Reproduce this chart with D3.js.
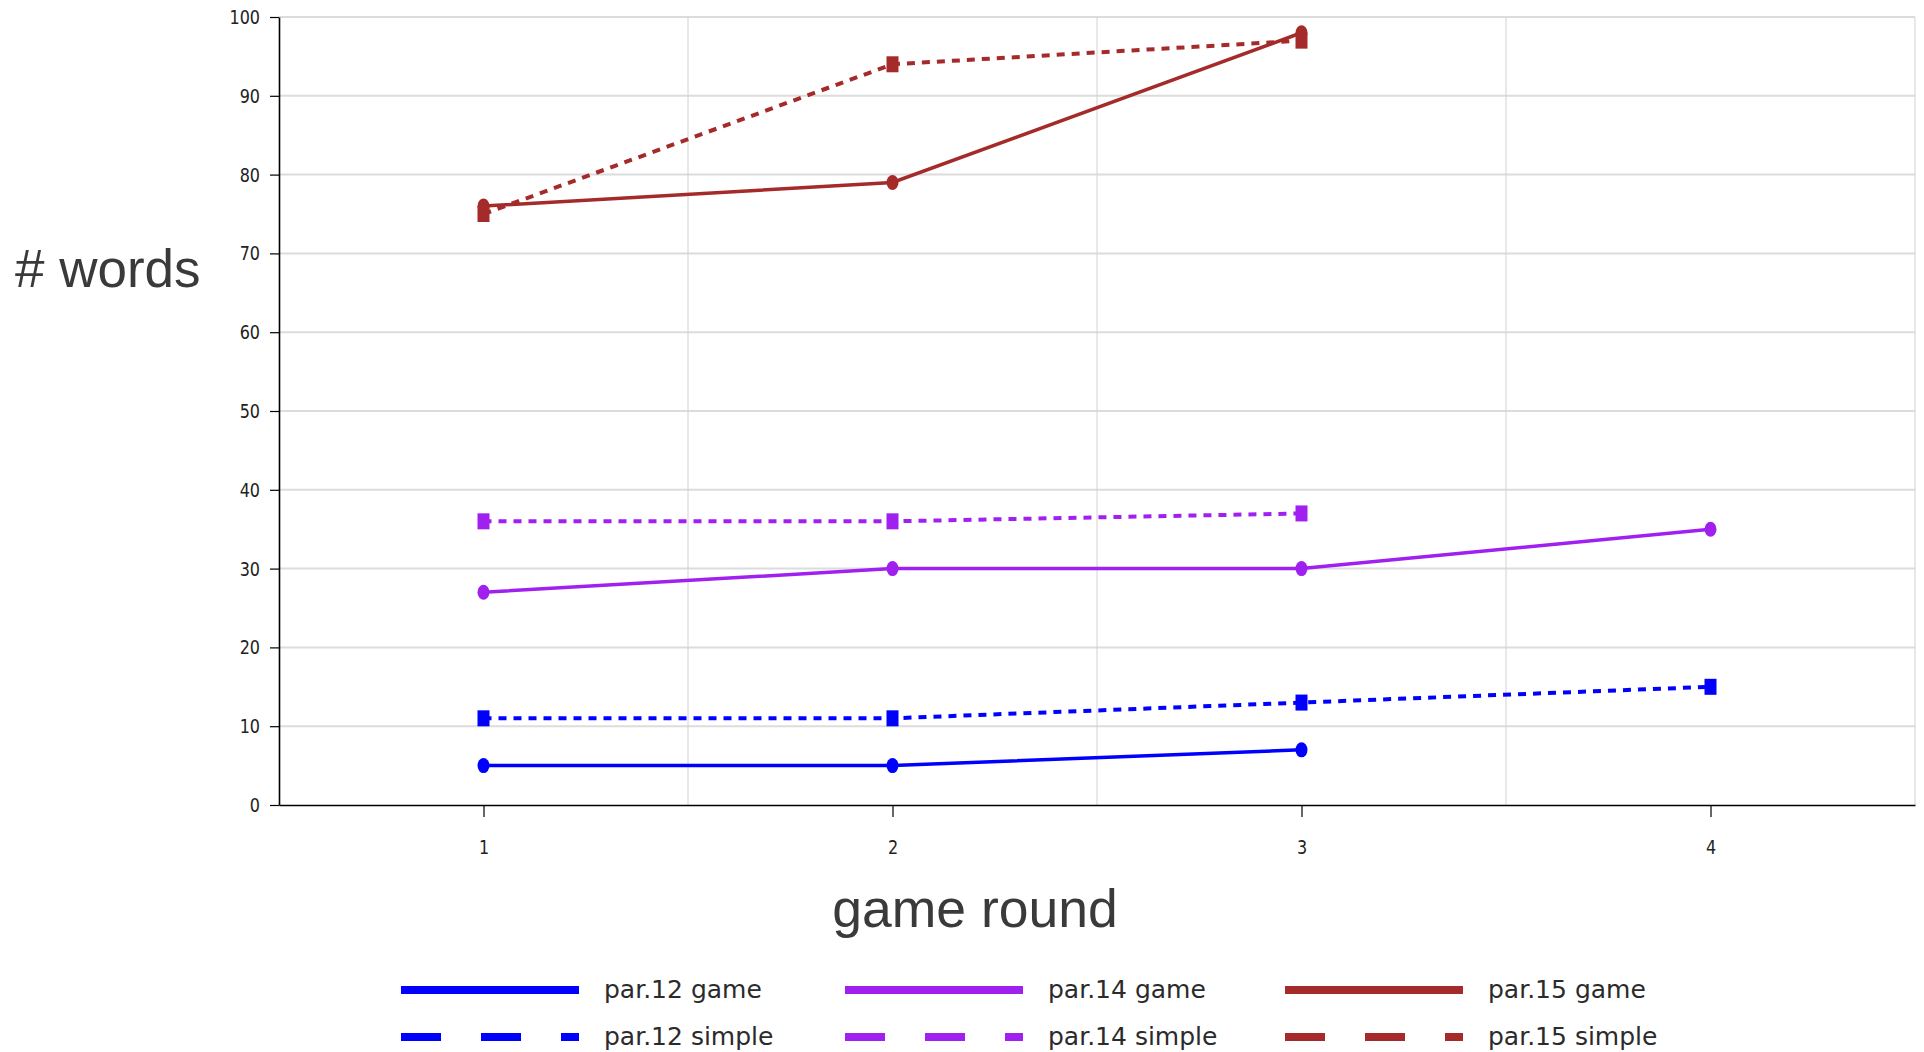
<!DOCTYPE html>
<html>
<head>
<meta charset="utf-8">
<script src="https://cdn.jsdelivr.net/npm/d3@7"></script>
<style>
  html, body { margin: 0; padding: 0; background: #fff; }
  svg { display: block; }
</style>
</head>
<body>
<svg id="chart" width="1924" height="1052"></svg>
<script>
// ---------------- data ----------------
const rounds = [1, 2, 3, 4];
const yTickValues = [0, 10, 20, 30, 40, 50, 60, 70, 80, 90, 100];
const xTickValues = [1, 2, 3, 4];
const xGridValues = [1.5, 2.5, 3.5, 4.5];

const par12Game   = [5, 5, 7, null];
const par12Simple = [11, 11, 13, 15];
const par14Game   = [27, 30, 30, 35];
const par14Simple = [36, 36, 37, null];
const par15Game   = [76, 79, 98, null];
const par15Simple = [75, 94, 97, null];

const participants = ["par.12", "par.14", "par.15"];
const participantColors = ["#0000ff", "#a020f0", "#a52a2a"];
const kinds = ["game", "simple"];

const xTitle = "game round";
const yTitle = "# words";

// series table built from the arrays above
const series = [
  { name: "par.12 game",   p: 0, kind: "game",   values: par12Game },
  { name: "par.12 simple", p: 0, kind: "simple", values: par12Simple },
  { name: "par.14 game",   p: 1, kind: "game",   values: par14Game },
  { name: "par.14 simple", p: 1, kind: "simple", values: par14Simple },
  { name: "par.15 game",   p: 2, kind: "game",   values: par15Game },
  { name: "par.15 simple", p: 2, kind: "simple", values: par15Simple }
];

// ---------------- layout ----------------
const svg = d3.select("#chart");
const plotLeft = 279, plotRight = 1915, plotTop = 17, plotBottom = 805;

const x = d3.scaleLinear().domain([0.5, 4.5]).range([plotLeft, plotRight]);
const y = d3.scaleLinear().domain([0, 100]).range([plotBottom, plotTop]);

// grid
const grid = svg.append("g");
grid.selectAll("line.h").data(yTickValues.filter(v => v > 0)).join("line")
  .attr("x1", plotLeft).attr("x2", plotRight)
  .attr("y1", d => y(d)).attr("y2", d => y(d))
  .attr("stroke", "#dcdcdc").attr("stroke-width", 2);
grid.selectAll("line.v").data(xGridValues).join("line")
  .attr("x1", d => x(d)).attr("x2", d => x(d))
  .attr("y1", plotTop).attr("y2", plotBottom)
  .attr("stroke", "#d2d2d2").attr("stroke-width", 1);

// axes
const condense = 0.8;
const yAxisG = svg.append("g").attr("transform", `translate(${plotLeft},0)`)
  .call(d3.axisLeft(y).tickValues(yTickValues).tickFormat(d3.format("d"))
    .tickSize(9).tickSizeOuter(0).tickPadding(10));
const xAxisG = svg.append("g").attr("transform", `translate(0,${plotBottom})`)
  .call(d3.axisBottom(x).tickValues(xTickValues).tickFormat(d3.format("d"))
    .tickSize(12).tickSizeOuter(0).tickPadding(23));

[yAxisG, xAxisG].forEach(g => {
  g.select(".domain").attr("stroke", "#000").attr("stroke-width", 1.6);
  g.selectAll(".tick line").attr("stroke", "#000").attr("stroke-width", 1.2);
  g.selectAll(".tick text")
    .attr("font-family", "DejaVu Sans, sans-serif")
    .attr("font-size", 20)
    .attr("fill", "#222");
});
yAxisG.selectAll(".tick text")
  .attr("x", -19 / condense)
  .attr("transform", `scale(${condense},1)`);
xAxisG.selectAll(".tick text")
  .attr("transform", `scale(${condense},1)`);

// lines
const lineGen = d3.line()
  .defined(d => d != null)
  .x((d, i) => x(rounds[i]))
  .y(d => y(d));

const seriesG = svg.append("g");
series.forEach(s => {
  const color = participantColors[s.p];
  seriesG.append("path")
    .attr("d", lineGen(s.values))
    .attr("fill", "none")
    .attr("stroke", color)
    .attr("stroke-width", s.kind === "game" ? 3.5 : 4)
    .attr("stroke-dasharray", s.kind === "game" ? null : "8,7");
  const pts = s.values.map((v, i) => ({ r: rounds[i], v })).filter(d => d.v != null);
  if (s.kind === "game") {
    seriesG.selectAll(null).data(pts).join("ellipse")
      .attr("cx", d => x(d.r)).attr("cy", d => y(d.v))
      .attr("rx", 6).attr("ry", 7.5)
      .attr("fill", color);
  } else {
    seriesG.selectAll(null).data(pts).join("rect")
      .attr("x", d => x(d.r) - 6).attr("y", d => y(d.v) - 8)
      .attr("width", 12).attr("height", 16)
      .attr("fill", color);
  }
});

// axis titles
svg.append("text")
  .attr("x", 15).attr("y", 287)
  .attr("font-family", "Liberation Sans, Arial, sans-serif")
  .attr("font-size", 53)
  .attr("fill", "#3a3a3a")
  .text(yTitle);
svg.append("text")
  .attr("x", 975).attr("y", 927)
  .attr("text-anchor", "middle")
  .attr("font-family", "Liberation Sans, Arial, sans-serif")
  .attr("font-size", 53.5)
  .attr("fill", "#3a3a3a")
  .text(xTitle);

// legend
const legendColX = [401, 845, 1285];
const legendRowY = [990, 1037];
const legend = svg.append("g");
series.forEach(s => {
  const row = kinds.indexOf(s.kind);
  const lx = legendColX[s.p], ly = legendRowY[row];
  legend.append("line")
    .attr("x1", lx).attr("x2", lx + 178)
    .attr("y1", ly).attr("y2", ly)
    .attr("stroke", participantColors[s.p])
    .attr("stroke-width", 8)
    .attr("stroke-dasharray", s.kind === "game" ? null : "40,40");
  legend.append("text")
    .attr("x", lx + 203).attr("y", ly + 8)
    .attr("font-family", "DejaVu Sans, sans-serif")
    .attr("font-size", 25)
    .attr("fill", "#2b2b2b")
    .text(s.name);
});
</script>
</body>
</html>
